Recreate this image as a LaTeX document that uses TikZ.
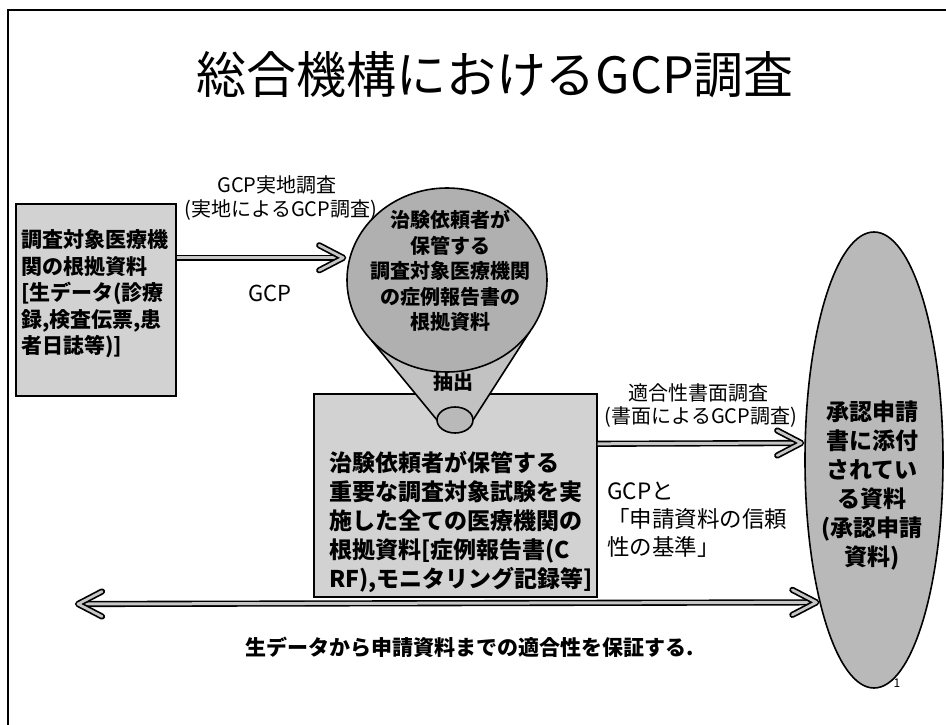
\documentclass[tikz,border=0pt]{standalone}
\usepackage{fontspec}
\setmainfont{Noto Sans CJK JP}
\usetikzlibrary{arrows.meta,shapes.geometric}
\newcommand\fsz[2]{\fontsize{#1}{#2}\selectfont}
\tikzset{
  boxshape/.style={draw=black, line width=1.6pt, inner sep=0pt},
  lbl/.style={inner sep=0pt, text=black},
  blbl/.style={inner sep=0pt, text=black, font=\bfseries},
  shaft/.style={draw=black, line width=1.6pt, double=gray!45, double distance=3pt},
  headout/.style={draw=black, line width=6.2pt, line join=round, line cap=round},
  headin/.style={draw=gray!45, line width=2.8pt, line join=round, line cap=round},
}
\newcommand\chevhead[2]{%
  \draw[headout] ([shift={(#2*-24,-12.5)}]#1) -- (#1) -- ([shift={(#2*-24,12.5)}]#1);
  \draw[headin] ([shift={(#2*-24,-12.5)}]#1) -- (#1) -- ([shift={(#2*-24,12.5)}]#1);}
\begin{document}
\begin{tikzpicture}[x=1pt,y=-1pt]
\useasboundingbox (0,0) rectangle (946,725);
\fill[white] (0,0) rectangle (946,725);
% frame
\draw[line width=2pt] (8,725) -- (8,10) -- (946,10);

% title
\node[lbl] (title) at (495,75) {\fsz{50}{60}総合機構におけるGCP調査};

% left box
\node[boxshape, fill=gray!35, minimum width=160, minimum height=192, anchor=north west] (lbox) at (15,203) {};
\node[blbl, anchor=north west, align=left, font=\bfseries\fsz{21}{26.5}] (ltext) at (21,229.5)
  {調査対象医療機\\関の根拠資料\\{}[生データ(診療\\録,検査伝票,患\\者日誌等)]};

% center box
\node[boxshape, fill=gray!35, minimum width=283, minimum height=203, anchor=north west] (cbox) at (313,393) {};

% cone and bubble
\coordinate (cL) at (371.5,340.4);
\coordinate (cR) at (530.3,330.8);
\coordinate (tL) at (437,420);
\coordinate (tR) at (473,420);
\fill[gray!48] (cL) -- (tL) -- (tR) -- (cR) -- (447,280) -- cycle;
\draw[line width=1.6pt] (cL) -- (tL);
\draw[line width=1.6pt] (cR) -- (tR);
\node[ellipse, boxshape, fill=gray!62, minimum width=200, minimum height=184] (bubble) at (447,280) {};
\node[ellipse, boxshape, fill=gray!55, minimum width=36, minimum height=26] (tip) at (455,420) {};
\node[blbl, anchor=north, align=center, font=\bfseries\fsz{20}{25.5}] (btext) at (450,210)
  {治験依頼者が\\保管する\\調査対象医療機関\\の症例報告書の\\根拠資料};
\node[blbl, font=\bfseries\fsz{20}{24}] (extract) at (453,382) {抽出};

\node[blbl, anchor=north west, align=left, font=\bfseries\fsz{23}{29}] (ctext) at (329,451.5)
  {治験依頼者が保管する\\重要な調査対象試験を実\\施した全ての医療機関の\\根拠資料[症例報告書(C\\RF),モニタリング記録等]};

% right ellipse
\node[ellipse, boxshape, fill=gray!55, minimum width=138, minimum height=456] (rightell) at (874,460) {};
\node[blbl, anchor=north, align=center, font=\bfseries\fsz{23}{29}] (rtext) at (872,400.5)
  {承認申請\\書に添付\\されてい\\る資料\\{}(承認申請\\資料)};

% labels
\node[lbl, font=\fsz{20}{24}] (l1a) at (277,185) {GCP実地調査};
\node[lbl, font=\fsz{20}{24}] (l1b) at (281,210) {(実地によるGCP調査)};
\node[lbl, font=\fsz{22}{26}] (l1c) at (270,293) {GCP};
\node[lbl, font=\fsz{20}{24}] (l2a) at (698,393) {適合性書面調査};
\node[lbl, font=\fsz{20}{24}] (l2b) at (701,417) {(書面によるGCP調査)};
\node[lbl, anchor=north west, align=left, font=\fsz{22.5}{28}] (l2c) at (607,482)
  {GCPと\\「申請資料の信頼\\性の基準」};
\node[blbl, anchor=west, font=\bfseries\fsz{21}{24}] (bottom) at (245,647) {生データから申請資料までの適合性を保証する.};
\node[lbl, font=\fsz{12}{14}] (pnum) at (897,683) {1};

% arrows
\coordinate (a1) at ([yshift=42pt]lbox.east);
\path (a1 -| bubble.west) coordinate (a1t);
\coordinate (a1e) at ([xshift=-3pt]a1t);
\draw[shaft] (a1) -- (a1e);
\chevhead{a1e}{1}

\coordinate (a2) at ([yshift=51.5pt]cbox.east);
\coordinate (a2e) at ([shift={(-3,-17)}]rightell.west);
\draw[shaft] (a2) -- (a2e);
\chevhead{a2e}{1}

\coordinate (bl) at (78,604);
\coordinate (br) at ([xshift=-3pt]rightell.249.4);
\draw[shaft] (bl) -- (br);
\chevhead{bl}{-1}
\chevhead{br}{1}
\end{tikzpicture}
\end{document}
